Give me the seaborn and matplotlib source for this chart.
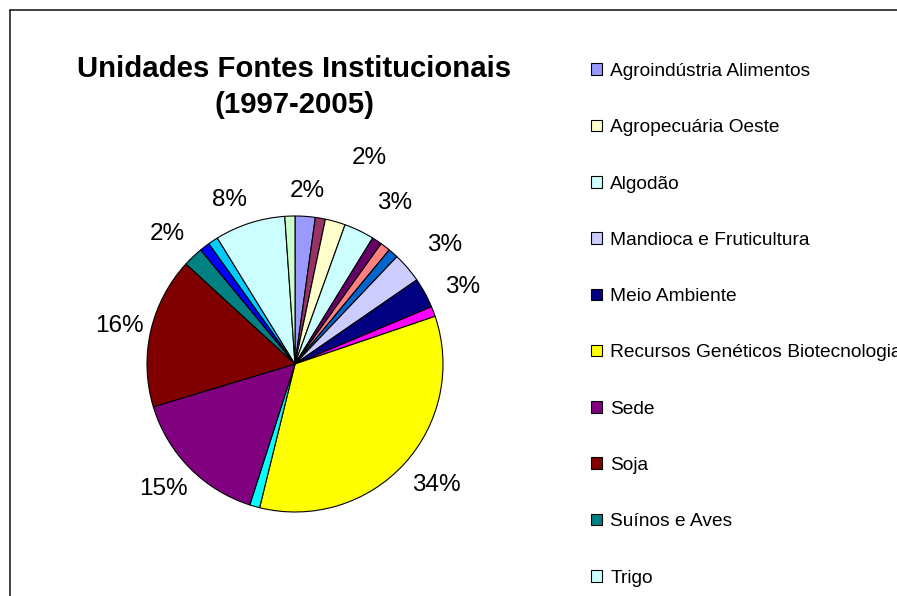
import numpy as np
import pandas as pd
import matplotlib
matplotlib.use("Agg")
import matplotlib.pyplot as plt
import seaborn as sns
from matplotlib.lines import Line2D

# ---- data (slice order clockwise from 12 o'clock) ----
categories = ["Agroindústria Alimentos", "", "Agropecuária Oeste", "Algodão", "", "", "",
              "Mandioca e Fruticultura", "Meio Ambiente", "", "Recursos Genéticos Biotecnologia",
              "", "Sede", "Soja", "Suínos e Aves", "", "", "Trigo", ""]
counts = [2, 1, 2, 3, 1, 1, 1, 3, 3, 1, 31, 1, 14, 15, 2, 1, 1, 7, 1]
colors = ["#9999FF", "#993366", "#FFFFCC", "#CCFFFF", "#660066", "#FF8080", "#0066CC",
          "#CCCCFF", "#000080", "#FF00FF", "#FFFF00", "#00FFFF", "#800080", "#800000",
          "#008080", "#0000FF", "#00CCFF", "#CCFFFF", "#CCFFCC"]

df = pd.DataFrame({"unidade": categories, "n": counts, "cor": colors})

sns.set_style("white")
plt.rcParams["font.family"] = ["Liberation Sans", "DejaVu Sans"]
plt.rcParams["text.color"] = "black"

W, H = 897, 596
fig = plt.figure(figsize=(W / 100, H / 100), dpi=100)

# chart-area frame (right and bottom edges fall outside the image)
fig.add_artist(Line2D([10 / W, 1.0], [1 - 10 / H, 1 - 10 / H], color="#222222", lw=1.2,
                      transform=fig.transFigure))
fig.add_artist(Line2D([10 / W, 10 / W], [1 - 10 / H, 0.0], color="#222222", lw=1.2,
                      transform=fig.transFigure))

# pie axes
cx, cy, R = 295, 364, 148
ax = fig.add_axes([(cx - R) / W, 1 - (cy + R) / H, 2 * R / W, 2 * R / H])
palette = sns.color_palette(df["cor"].tolist())
wedges, _ = ax.pie(df["n"], colors=palette, startangle=90, counterclock=False,
                   wedgeprops=dict(edgecolor="black", linewidth=0.8), radius=1.0)
ax.set_xlim(-1, 1)
ax.set_ylim(-1, 1)
ax.set_aspect("auto")
ax.axis("off")

# percentage labels for named categories
total = df["n"].sum()
label_layout = {  # angle nudge (deg, clockwise) and radial distance
    "Agropecuária Oeste": (4, 1.48),
    "Algodão": (6, 1.28),
    "Mandioca e Fruticultura": (2, 1.29),
    "Meio Ambiente": (4, 1.25),
    "Trigo": (-4, 1.19),
    "Agroindústria Alimentos": (0, 1.17),
    "Soja": (-0.7, 1.21),
    "Sede": (1, 1.23),
    "Recursos Genéticos Biotecnologia": (-2, 1.255),
    "Suínos e Aves": (-1, 1.23),
}
cum = 0
for name, n in zip(df["unidade"], df["n"]):
    mid = (cum + n / 2) / total * 360
    cum += n
    if not name:
        continue
    dang, r = label_layout.get(name, (0, 1.24))
    th = np.deg2rad(mid + dang)
    ax.text(r * np.sin(th), r * np.cos(th), f"{n / total * 100:.0f}%",
            ha="center", va="center", fontsize=17.5, color="black", clip_on=False)

# title
fig.text(294 / W, 1 - 87 / H, "Unidades Fontes Institucionais\n(1997-2005)",
         ha="center", va="center", fontsize=21.2, fontweight="bold", linespacing=1.33,
         color="black")

# legend (named categories only)
handles = [w for w, name in zip(wedges, df["unidade"]) if name]
labels = [name for name in df["unidade"] if name]
leg = fig.legend(handles, labels, loc="upper left", bbox_to_anchor=(591 / W, 1 - 63 / H),
                 frameon=False, fontsize=13.8, handlelength=0.55, handleheight=0.55,
                 handletextpad=0.45, labelspacing=2.05, borderaxespad=0, borderpad=0)
for t in leg.get_texts():
    t.set_color("black")

fig.savefig("out.png", dpi=100)
